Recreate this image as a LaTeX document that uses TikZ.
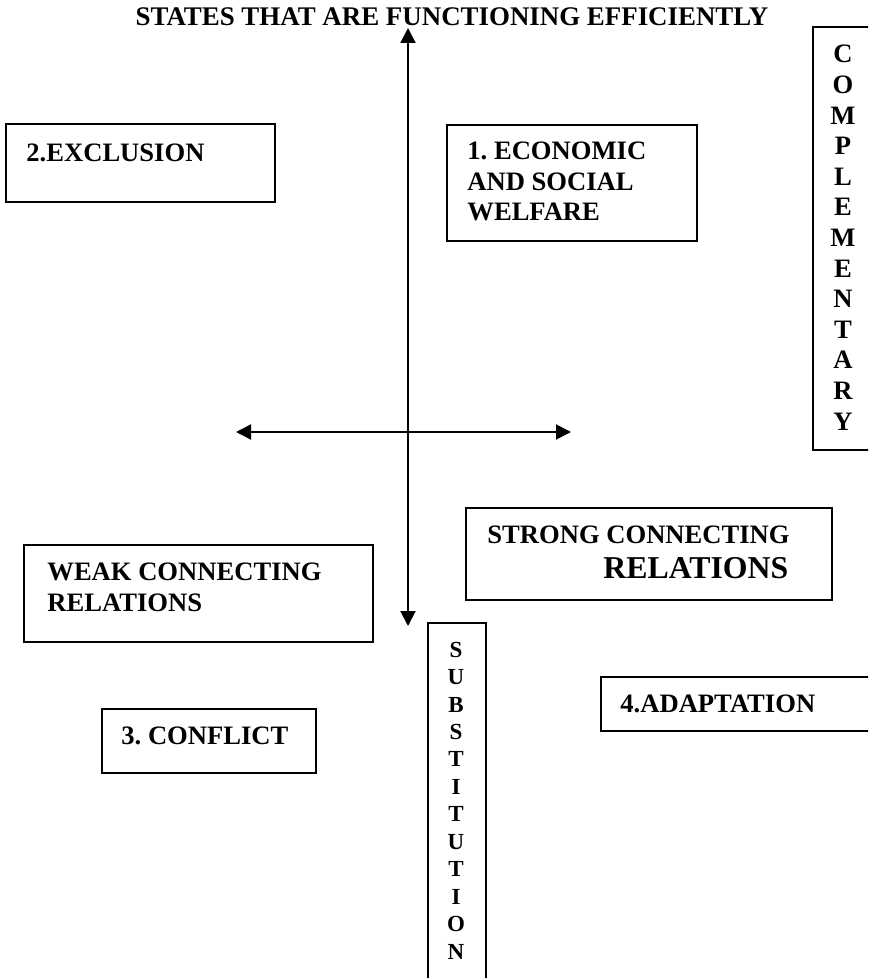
\documentclass[tikz,border=0pt]{standalone}
\usepackage{fontspec}
\setmainfont{Liberation Serif}
\usetikzlibrary{arrows.meta}
\begin{document}
\frenchspacing
\begin{tikzpicture}[x=0.5pt,y=-0.5pt,
  box/.style={draw, line width=0.8pt, rectangle, inner sep=0pt, anchor=north west},
  lbl/.style={inner sep=0pt, anchor=base west, align=left,
    font=\fontsize{13.3}{15.25}\selectfont\bfseries},
  vlbl/.style={inner sep=0pt, anchor=base, align=center,
    font=\fontsize{13.3}{15.3}\selectfont\bfseries},
  vlbls/.style={inner sep=0pt, anchor=base, align=center,
    font=\fontsize{11.5}{13.72}\selectfont\bfseries},
  axis/.style={line width=1pt, {Triangle[length=7.5pt,width=7.5pt]}-{Triangle[length=7.5pt,width=7.5pt]}}
]
\clip (0,0) rectangle (868,978);
\fill[white] (0,0) rectangle (868,978);

% title
\node[inner sep=0pt, anchor=base, font=\fontsize{13.45}{15}\selectfont\bfseries] (title) at (452,26)
  {STATES THAT ARE FUNCTIONING EFFICIENTLY};

% axes
\coordinate (vt) at (408,28);
\coordinate (vb) at (408,626);
\coordinate (hl) at (236,432);
\coordinate (hr) at (571,432);
\draw[axis] (vt) -- (vb);
\draw[axis] (hl) -- (hr);

% 2. EXCLUSION
\node[box, minimum width=134.5pt, minimum height=39pt] (bexc) at (5,123) {};
\node[lbl] (texc) at (26,162) {2.EXCLUSION};

% 1. ECONOMIC AND SOCIAL WELFARE (anchor = last line baseline)
\node[box, minimum width=125pt, minimum height=58pt] (beco) at (446,124) {};
\node[lbl] (teco) at (467,221) {1. ECONOMIC\\AND SOCIAL\\WELFARE};

% COMPLEMENTARY
\node[box, minimum width=60pt, minimum height=211.5pt] (bcom) at (812,26) {};
\node[vlbl] (tcom) at (843,430) {C\\O\\M\\P\\L\\E\\M\\E\\N\\T\\A\\R\\Y};

% WEAK CONNECTING RELATIONS
\node[box, minimum width=174.5pt, minimum height=48.5pt] (bweak) at (23,544) {};
\node[lbl] (tweak) at (47,611) {WEAK CONNECTING\\RELATIONS};

% STRONG CONNECTING RELATIONS
\node[box, minimum width=183pt, minimum height=46pt] (bstr) at (465,507) {};
\node[lbl] (tstr1) at (487,543) {STRONG CONNECTING};
\node[inner sep=0pt, anchor=base west, font=\fontsize{15.9}{18}\selectfont\bfseries] (tstr2) at (603,578) {RELATIONS};

% 3. CONFLICT
\node[box, minimum width=107pt, minimum height=32pt] (bcon) at (101,708) {};
\node[lbl] (tcon) at (121,744) {3. CONFLICT};

% SUBSTITUTION
\node[box, minimum width=29pt, minimum height=200pt] (bsub) at (427,622) {};
\node[vlbls] (tsub) at (456,959) {S\\U\\B\\S\\T\\I\\T\\U\\T\\I\\O\\N};

% 4. ADAPTATION
\node[box, minimum width=160pt, minimum height=27pt] (bada) at (600,676) {};
\node[lbl] (tada) at (620,712) {4.ADAPTATION};
\end{tikzpicture}
\end{document}
